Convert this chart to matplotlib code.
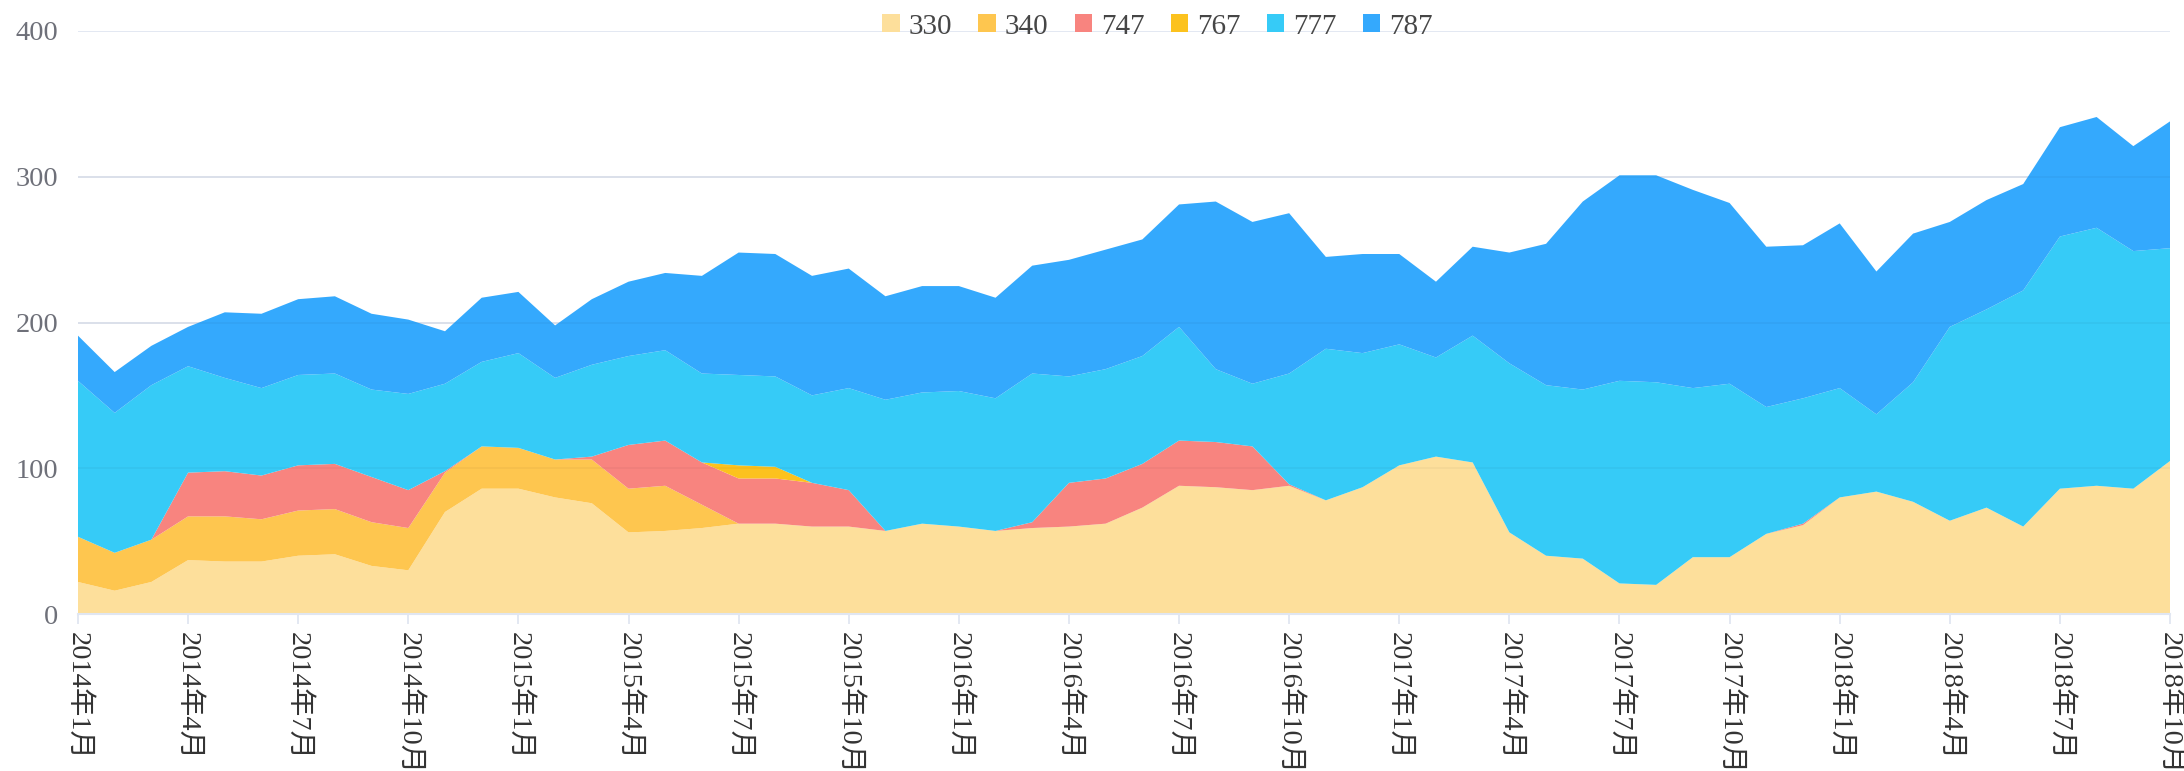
#!/usr/bin/env python3
import matplotlib

matplotlib.use("Agg")

import matplotlib.pyplot as plt
from matplotlib.patches import Patch

# monthly points, 2014-01 .. 2018-10
months = ["%d年%d月" % (y, m) for y in range(2014, 2019) for m in range(1, 13)][:58]

series_names = ["330", "340", "747", "767", "777", "787"]

s330 = [22, 16, 22, 37, 36, 36, 40, 41, 33, 30, 70, 86, 86, 80, 76, 56, 57, 59, 62, 62,
        60, 60, 57, 62, 60, 57, 59, 60, 62, 73, 88, 87, 85, 88, 78, 87, 102, 108, 104, 56,
        40, 38, 21, 20, 39, 39, 55, 61, 80, 84, 77, 64, 73, 60, 86, 88, 86, 105]
s340 = [31, 26, 29, 30, 31, 29, 31, 31, 30, 29, 27, 29, 28, 26, 30, 30, 31, 16, 0, 0,
        0, 0, 0, 0, 0, 0, 0, 0, 0, 0, 0, 0, 0, 0, 0, 0, 0, 0, 0, 0,
        0, 0, 0, 0, 0, 0, 0, 0, 0, 0, 0, 0, 0, 0, 0, 0, 0, 0]
s747 = [0, 0, 0, 30, 31, 30, 31, 31, 31, 26, 1, 0, 0, 0, 2, 30, 31, 29, 31, 31,
        30, 25, 0, 0, 0, 0, 4, 30, 31, 30, 31, 31, 30, 1, 0, 0, 0, 0, 0, 0,
        0, 0, 0, 0, 0, 0, 0, 1, 0, 0, 0, 0, 0, 0, 0, 0, 0, 0]
s767 = [0, 0, 0, 0, 0, 0, 0, 0, 0, 0, 0, 0, 0, 0, 0, 0, 0, 0, 9, 8,
        0, 0, 0, 0, 0, 0, 0, 0, 0, 0, 0, 0, 0, 0, 0, 0, 0, 0, 0, 0,
        0, 0, 0, 0, 0, 0, 0, 0, 0, 0, 0, 0, 0, 0, 0, 0, 0, 0]
s777 = [107, 96, 106, 73, 64, 60, 62, 62, 60, 66, 60, 58, 65, 56, 63, 61, 62, 61, 62, 62,
        60, 70, 90, 90, 93, 91, 102, 73, 75, 74, 78, 50, 43, 76, 104, 92, 83, 68, 87, 116,
        117, 116, 139, 139, 116, 119, 87, 86, 75, 53, 82, 133, 136, 162, 173, 177, 163, 146]
s787 = [31, 28, 27, 27, 45, 51, 52, 53, 52, 51, 36, 44, 42, 36, 45, 51, 53, 67, 84, 84,
        82, 82, 71, 73, 72, 69, 74, 80, 82, 80, 84, 115, 111, 110, 63, 68, 62, 52, 61, 76,
        97, 129, 141, 142, 136, 124, 110, 105, 113, 98, 102, 72, 75, 73, 75, 76, 72, 87]

colors = ["#FDDF9B", "#FEC64F", "#F8847F", "#FCC21E", "#36CBF7", "#34A9FD"]

plt.rcParams["font.family"] = ["Liberation Serif", "Noto Sans CJK SC"]

fig = plt.figure(figsize=(21.84, 7.71), dpi=100)
ax = fig.add_axes([0.0357, 0.2036, 0.9579, 0.7562])

x = list(range(len(months)))
ax.stackplot(x, s330, s340, s747, s767, s777, s787, colors=colors,
             linewidth=0, zorder=2)

ax.set_xlim(0, len(months) - 1)
ax.set_ylim(0, 400)
ax.set_yticks([0, 100, 200, 300, 400])
ax.grid(axis="y", color="#E0E6F1", linewidth=1.3, zorder=1)
ax.set_axisbelow(True)
# the grid shows faintly through the areas in the original
for v in [100, 200, 300]:
    ax.axhline(v, color="#000000", alpha=0.035, linewidth=1.3, zorder=2.5)

ticks = x[::3]
ax.set_xticks(ticks)
ax.set_xticklabels([months[i] for i in ticks], rotation=-90, va="top", ha="center")

for side in ["top", "right", "left"]:
    ax.spines[side].set_visible(False)
ax.spines["bottom"].set_color("#E0E6F1")
ax.spines["bottom"].set_linewidth(1.5)
ax.spines["bottom"].set_zorder(3)

ax.tick_params(axis="x", colors="#E0E6F1", length=7, width=1.3, pad=6,
               labelcolor="#333333", labelsize=20.5)
ax.tick_params(axis="y", length=0, pad=14, labelcolor="#6E7079", labelsize=20.5)

handles = [Patch(facecolor=c, edgecolor="none") for c in colors]
ax.legend(handles, series_names, loc="upper center", bbox_to_anchor=(0.516, 1.075),
          ncol=6, frameon=False, fontsize=21, handlelength=0.6, handleheight=0.6,
          handletextpad=0.3, columnspacing=0.9, labelcolor="#464646")

fig.savefig("out.png", dpi=100)
